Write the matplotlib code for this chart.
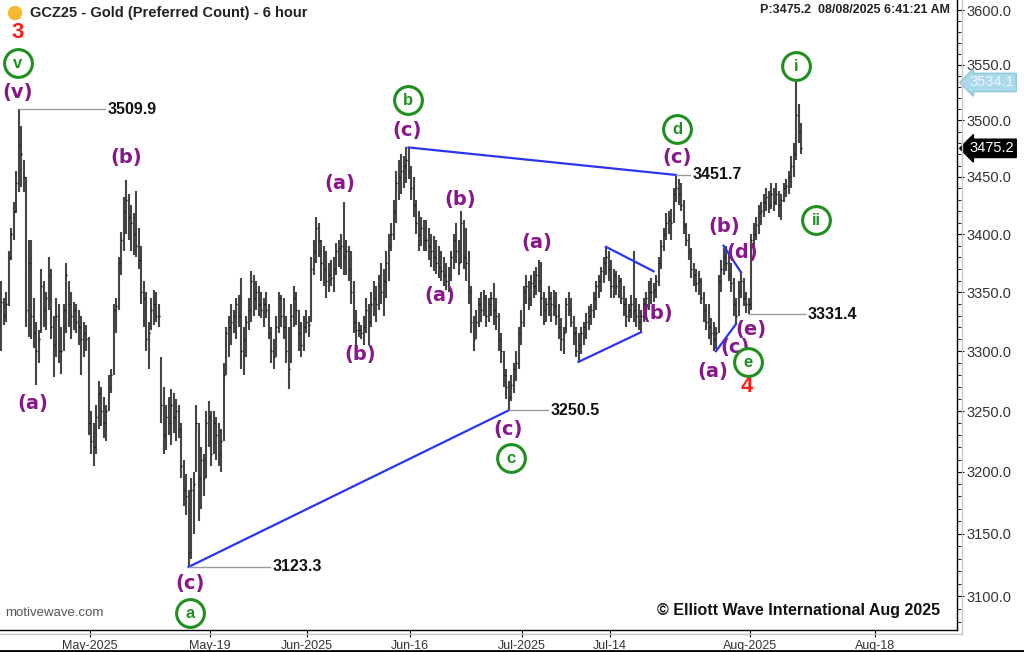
import numpy as np
import matplotlib
matplotlib.use('Agg')
import matplotlib.pyplot as plt
from matplotlib import transforms
from matplotlib.patches import Ellipse
from matplotlib.lines import Line2D
from matplotlib.ticker import FixedLocator, FuncFormatter, NullFormatter

plt.rcParams['font.family'] = ['Liberation Sans', 'DejaVu Sans']

# 6 hour bars of GCZ25, 4 bars per trading day, Apr 17 -> Aug 8 2025
highs = [
    3360, 3345, 3350, 3385, 3405, 3428, 3455, 3509.9, 3495, 3465,
    3450, 3395, 3395, 3345, 3325, 3318, 3370, 3360, 3350, 3380,
    3370, 3330, 3345, 3340, 3320, 3340, 3375, 3360, 3350, 3342,
    3340, 3335, 3330, 3325, 3322, 3312, 3250, 3240, 3255, 3275,
    3270, 3262, 3255, 3280, 3285, 3340, 3345, 3380, 3402, 3432,
    3447, 3435, 3425, 3418, 3438, 3405, 3390, 3360, 3350, 3325,
    3345, 3352, 3350, 3340, 3295, 3270, 3255, 3262, 3268, 3265,
    3260, 3255, 3240, 3210, 3198, 3185, 3195, 3200, 3255, 3240,
    3220, 3215, 3250, 3258, 3250, 3250, 3245, 3240, 3235, 3290,
    3320, 3330, 3340, 3335, 3345, 3348, 3362, 3320, 3330, 3345,
    3368, 3365, 3360, 3355, 3350, 3345, 3350, 3340, 3320, 3310,
    3330, 3350, 3348, 3345, 3330, 3320, 3340, 3355, 3350, 3335,
    3325, 3330, 3335, 3330, 3380, 3395, 3415, 3410, 3395, 3390,
    3385, 3375, 3378, 3380, 3392, 3395, 3400, 3428, 3395, 3390,
    3385, 3360, 3335, 3325, 3322, 3330, 3345, 3340, 3350, 3360,
    3355, 3365, 3375, 3370, 3385, 3400, 3410, 3430, 3455, 3465,
    3470, 3468, 3476, 3476, 3460, 3450, 3430, 3420, 3415, 3412,
    3412, 3405, 3400, 3398, 3395, 3390, 3385, 3380, 3375, 3372,
    3385, 3400, 3410, 3395, 3420, 3412, 3405, 3385, 3355, 3330,
    3335, 3345, 3350, 3352, 3348, 3345, 3350, 3358, 3345, 3332,
    3315, 3300, 3285, 3275, 3280, 3290, 3300, 3320, 3335, 3355,
    3365, 3360, 3365, 3368, 3372, 3378, 3376, 3350, 3345, 3355,
    3350, 3352, 3350, 3340, 3328, 3320, 3345, 3350, 3345, 3330,
    3320, 3315, 3320, 3325, 3332, 3338, 3340, 3350, 3360, 3365,
    3372, 3380, 3389, 3385, 3378, 3370, 3368, 3365, 3362, 3355,
    3345, 3340, 3348, 3385, 3345, 3340, 3335, 3345, 3350, 3360,
    3362, 3358, 3365, 3380, 3395, 3405, 3418, 3420, 3422, 3440,
    3451.7, 3448, 3445, 3430, 3410, 3400, 3388, 3375, 3370, 3368,
    3362, 3350, 3340, 3340, 3328, 3325, 3320, 3365, 3378, 3388,
    3390, 3382, 3375, 3362, 3345, 3360, 3368, 3362, 3350, 3345,
    3400, 3410, 3415, 3425, 3428, 3435, 3440, 3438, 3445, 3440,
    3445, 3438, 3435, 3445, 3448, 3455, 3468, 3480, 3534.1, 3515,
    3498,
]
lows = [
    3300, 3322, 3325, 3338, 3378, 3395, 3418, 3437, 3441, 3437,
    3320, 3312, 3310, 3303, 3272, 3290, 3315, 3320, 3318, 3335,
    3310, 3278, 3295, 3290, 3281, 3300, 3315, 3320, 3310, 3318,
    3315, 3305, 3280, 3295, 3300, 3230, 3215, 3205, 3215, 3235,
    3238, 3228, 3225, 3250, 3265, 3280, 3315, 3335, 3365, 3385,
    3400, 3395, 3385, 3382, 3380, 3370, 3340, 3320, 3300, 3285,
    3318, 3322, 3325, 3320, 3240, 3215, 3218, 3230, 3222, 3232,
    3225, 3228, 3195, 3172, 3165, 3123.3, 3130, 3150, 3200, 3160,
    3170, 3180, 3195, 3220, 3205, 3215, 3210, 3205, 3200, 3225,
    3280, 3295, 3305, 3315, 3310, 3320, 3285, 3280, 3295, 3318,
    3325, 3330, 3335, 3330, 3328, 3320, 3328, 3310, 3290, 3285,
    3295, 3315, 3320, 3310, 3290, 3268, 3290, 3320, 3322, 3300,
    3295, 3300, 3315, 3312, 3325, 3365, 3375, 3380, 3360, 3355,
    3345, 3350, 3355, 3350, 3365, 3372, 3370, 3365, 3365, 3360,
    3340, 3315, 3305, 3312, 3310, 3305, 3315, 3305, 3320, 3330,
    3325, 3335, 3340, 3330, 3345, 3360, 3385, 3395, 3410, 3430,
    3435, 3440, 3445, 3448, 3430, 3415, 3400, 3385, 3390, 3385,
    3385, 3378, 3372, 3368, 3366, 3362, 3360, 3355, 3352, 3350,
    3360, 3370, 3375, 3365, 3375, 3370, 3360, 3340, 3315, 3300,
    3310, 3320, 3325, 3330, 3320, 3325, 3330, 3322, 3318, 3300,
    3290, 3270, 3260, 3250.5, 3258, 3265, 3275, 3285, 3305, 3320,
    3340, 3335, 3338, 3345, 3348, 3350, 3330, 3322, 3325, 3330,
    3325, 3330, 3322, 3310, 3300, 3298, 3315, 3330, 3320, 3305,
    3295, 3291, 3298, 3305, 3310, 3318, 3322, 3328, 3335, 3345,
    3350, 3358, 3365, 3360, 3345, 3345, 3348, 3345, 3340, 3330,
    3320, 3325, 3328, 3325, 3320, 3318, 3316, 3325, 3330, 3335,
    3340, 3342, 3345, 3355, 3370, 3385, 3395, 3400, 3395, 3410,
    3428, 3425, 3420, 3400, 3390, 3378, 3362, 3355, 3350, 3348,
    3340, 3325, 3318, 3310, 3305, 3300, 3302, 3315, 3350, 3365,
    3368, 3360, 3350, 3330, 3322, 3330, 3345, 3338, 3332, 3331.4,
    3335, 3385, 3395, 3400, 3408, 3415, 3420, 3418, 3422, 3420,
    3425, 3415, 3412, 3428, 3432, 3435, 3440, 3450, 3465, 3480,
    3470,
]
closes = [
    3342, 3330, 3340, 3380, 3400, 3420, 3445, 3478, 3470, 3450,
    3335, 3375, 3330, 3315, 3300, 3310, 3355, 3335, 3345, 3365,
    3320, 3305, 3330, 3300, 3300, 3335, 3365, 3340, 3330, 3335,
    3325, 3320, 3310, 3315, 3310, 3240, 3225, 3220, 3245, 3265,
    3250, 3240, 3250, 3270, 3280, 3335, 3338, 3375, 3395, 3420,
    3430, 3415, 3410, 3400, 3390, 3378, 3350, 3345, 3310, 3315,
    3335, 3340, 3330, 3330, 3255, 3230, 3245, 3240, 3255, 3245,
    3250, 3235, 3205, 3185, 3180, 3135, 3185, 3190, 3240, 3195,
    3210, 3195, 3240, 3245, 3215, 3240, 3230, 3215, 3225, 3280,
    3315, 3320, 3325, 3330, 3340, 3330, 3300, 3310, 3325, 3335,
    3360, 3345, 3350, 3340, 3335, 3340, 3335, 3315, 3300, 3295,
    3320, 3345, 3330, 3320, 3300, 3285, 3330, 3345, 3335, 3315,
    3305, 3320, 3325, 3322, 3370, 3385, 3405, 3395, 3375, 3370,
    3360, 3365, 3362, 3370, 3385, 3388, 3390, 3380, 3385, 3370,
    3350, 3325, 3318, 3318, 3315, 3320, 3335, 3325, 3340, 3345,
    3340, 3355, 3350, 3360, 3375, 3390, 3400, 3420, 3445, 3450,
    3455, 3460, 3465, 3455, 3440, 3425, 3410, 3400, 3405, 3395,
    3395, 3390, 3385, 3380, 3375, 3372, 3368, 3365, 3360, 3365,
    3380, 3395, 3385, 3375, 3410, 3380, 3375, 3350, 3325, 3310,
    3325, 3340, 3335, 3345, 3330, 3340, 3345, 3335, 3330, 3310,
    3300, 3280, 3270, 3262, 3272, 3285, 3290, 3315, 3325, 3350,
    3355, 3345, 3358, 3355, 3365, 3360, 3345, 3335, 3340, 3345,
    3340, 3338, 3330, 3320, 3310, 3315, 3340, 3335, 3325, 3315,
    3300, 3305, 3315, 3320, 3325, 3330, 3335, 3345, 3355, 3360,
    3368, 3375, 3380, 3370, 3355, 3365, 3355, 3360, 3345, 3340,
    3330, 3335, 3340, 3335, 3330, 3325, 3330, 3340, 3345, 3350,
    3350, 3352, 3360, 3375, 3390, 3400, 3410, 3412, 3410, 3435,
    3440, 3435, 3425, 3408, 3395, 3385, 3370, 3365, 3358, 3360,
    3345, 3335, 3325, 3320, 3315, 3310, 3315, 3360, 3370, 3380,
    3375, 3365, 3358, 3340, 3330, 3350, 3360, 3345, 3340, 3340,
    3395, 3400, 3408, 3418, 3420, 3428, 3432, 3425, 3435, 3428,
    3435, 3425, 3430, 3440, 3442, 3450, 3460, 3470, 3505, 3490,
    3475.2,
]

# x axis: one unit = one trading day
tick_labels = ['May-2025', 'May-19', 'Jun-2025', 'Jun-16', 'Jul-2025', 'Jul-14', 'Aug-2025', 'Aug-18']
tick_pos = [9.0, 21.0, 30.7, 41.0, 52.2, 61.0, 75.0, 87.5]
price_ticks = [3100, 3150, 3200, 3250, 3300, 3350, 3400, 3450, 3500, 3550, 3600]

# marked extremes: (bar index, price, label x)
callouts = [(7, 3509.9, 10.5), (75, 3123.3, 27.0), (203, 3250.5, 54.8),
            (270, 3451.7, 69.0), (299, 3331.4, 80.5)]
# trend lines: (bar0, price0, bar1, price1)
trendlines = [(75, 3123.3, 203, 3250.5), (163, 3476, 270, 3451.7),
              (231, 3291, 256, 3316), (242, 3389, 261, 3368),
              (286, 3300, 294, 3323), (289, 3390, 296, 3367)]

purple_labels = [('(v)', 1.8, 3525), ('(b)', 12.6, 3467), ('(a)', 3.3, 3256),
                 ('(c)', 19.0, 3110), ('(a)', 34.0, 3444), ('(b)', 36.0, 3297),
                 ('(c)', 40.7, 3491), ('(b)', 46.0, 3430), ('(a)', 44.0, 3347),
                 ('(a)', 53.7, 3393), ('(c)', 50.8, 3235), ('(b)', 65.7, 3332),
                 ('(c)', 67.7, 3467), ('(b)', 72.4, 3407), ('(d)', 74.2, 3384),
                 ('(a)', 71.3, 3283), ('(c)', 73.5, 3303), ('(e)', 75.1, 3318)]
green_labels = [('v', 1.8, 3551.6), ('a', 19.0, 3086.6), ('b', 40.8, 3518.2),
                ('c', 51.1, 3211.1), ('d', 67.7, 3492.3), ('e', 74.8, 3290.8),
                ('i', 79.6, 3548.9), ('ii', 81.6, 3412.2)]
red_labels = [('3', 1.8, 3579), ('4', 74.7, 3270)]

n = len(closes)
bar_x = np.arange(n) * 0.25 + 0.1

fig = plt.figure(figsize=(10.24, 6.52), dpi=100)
ax = fig.add_axes([0, 22 / 652, 957 / 1024, 630 / 652])
ax.set_yscale('log')
ax.set_ylim(3073.5, 3609.2)
ax.set_xlim(0, 95.7)

# OHLC bars
ax.vlines(bar_x, lows, highs, color='#444444', lw=1.5, zorder=2)
ax.hlines(closes, bar_x, bar_x + 0.13, color='black', lw=1.0, zorder=2)

for i0, p0, i1, p1 in trendlines:
    ax.plot([bar_x[i0], bar_x[i1]], [p0, p1], color='#2a35f0', lw=1.6, zorder=3)

for i, p, xe in callouts:
    ax.plot([bar_x[i], xe], [p, p], color='#999999', lw=1.0, zorder=3)
    ax.text(xe + 0.3, p, f'{p:.1f}', fontsize=11.5, fontweight='bold',
            va='center', ha='left', color='#111111', zorder=4)

for t, x, y in purple_labels:
    ax.text(x, y, t, fontsize=14, fontweight='bold', color='#87178a',
            family='DejaVu Sans', ha='center', va='center', zorder=4)

gx = [g[1] for g in green_labels]
gy = [g[2] for g in green_labels]
ax.scatter(gx, gy, s=400, facecolors='white', edgecolors='#1f8f1f',
           linewidths=2.2, zorder=5)
for t, x, y in green_labels:
    ax.text(x, y, t, fontsize=12, fontweight='bold', color='#1f8f1f',
            ha='center', va='center', zorder=6)

for t, x, y in red_labels:
    ax.text(x, y, t, fontsize=16, fontweight='bold', color='#ff1a1a',
            ha='center', va='center', zorder=4)

# axes styling
ax.yaxis.tick_right()
ax.yaxis.set_major_locator(FixedLocator(price_ticks))
ax.yaxis.set_minor_locator(FixedLocator(np.arange(3080, 3610, 10)))
ax.yaxis.set_major_formatter(FuncFormatter(lambda v, _: f'{v:.1f}'))
ax.yaxis.set_minor_formatter(NullFormatter())
ax.tick_params(axis='y', which='major', direction='out', length=5, pad=2,
               labelsize=10.5, labelcolor='#333333')
ax.tick_params(axis='y', which='minor', direction='out', length=3)
ax.set_xticks(tick_pos)
ax.set_xticklabels(tick_labels)
ax.tick_params(axis='x', direction='out', length=5, pad=2, labelsize=9,
               labelcolor='#333333')
for s in ['left', 'top']:
    ax.spines[s].set_visible(False)
for s in ['right', 'bottom']:
    ax.spines[s].set_color('black')
    ax.spines[s].set_linewidth(1.0)

# last price / high tags on the scale
tr = transforms.blended_transform_factory(ax.transAxes, ax.transData)
ax.text(1.013, 3534.1, '3534.1', transform=tr, fontsize=10.5, color='#eef8ff',
        va='center', ha='left', clip_on=False, zorder=7,
        bbox=dict(boxstyle='larrow,pad=0.15', fc='#a9d9ea', ec='#8cc6da'))
ax.text(1.013, 3475.2, '3475.2', transform=tr, fontsize=10.5, color='white',
        va='center', ha='left', clip_on=False, zorder=7,
        bbox=dict(boxstyle='larrow,pad=0.15', fc='black', ec='black'))

# header and footer
fig.add_artist(Ellipse((15 / 1024, 1 - 13 / 652), 13 / 1024, 13 / 652,
                       color='#f5b82e'))
fig.text(30 / 1024, 1 - 13 / 652, 'GCZ25 - Gold (Preferred Count) - 6 hour',
         fontsize=10.5, fontweight='bold', va='center', color='#222222')
fig.text(950 / 1024, 1 - 10 / 652, 'P:3475.2  08/08/2025 6:41:21 AM',
         fontsize=9, fontweight='bold', va='center', ha='right', color='#222222')
ax.text(5 / 957, 17 / 630, 'motivewave.com', transform=ax.transAxes,
        fontsize=9.5, color='#555555', va='center')
ax.text(940 / 957, 19 / 630, '\u00a9 Elliott Wave International Aug 2025',
        transform=ax.transAxes, fontsize=11.5, fontweight='bold',
        ha='right', va='center', color='#111111')

# light outer frame of the chart panel and bottom rule
fig.add_artist(Line2D([0, 962 / 1024], [1 - 634 / 652, 1 - 634 / 652],
                      color='#c8c8c8', lw=1))
fig.add_artist(Line2D([962 / 1024, 962 / 1024], [1 - 634 / 652, 1],
                      color='#c8c8c8', lw=1))
fig.add_artist(Line2D([0, 1], [1.5 / 652, 1.5 / 652], color='black', lw=2))

fig.savefig('out.png', dpi=100)
